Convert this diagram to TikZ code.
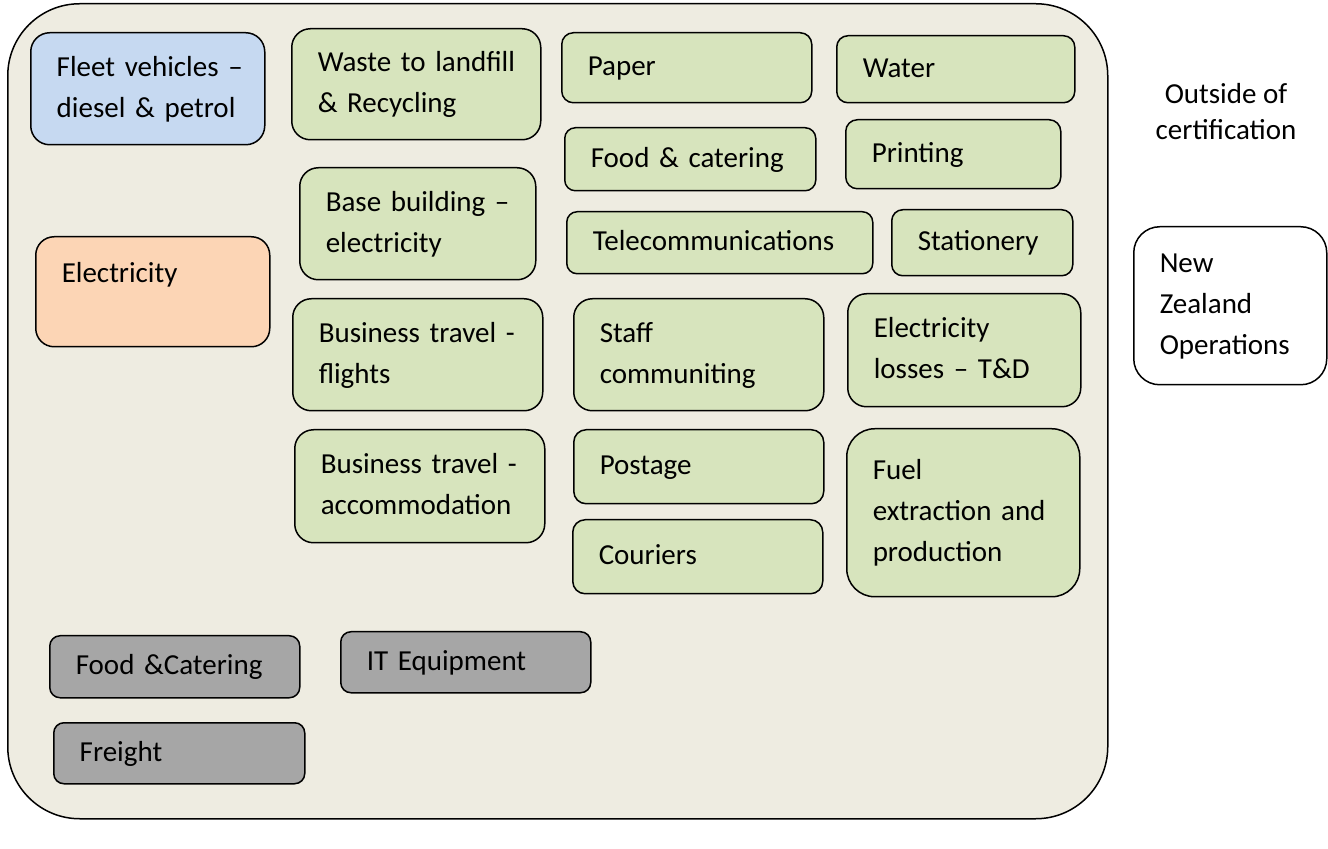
\documentclass[tikz,border=0pt]{standalone}
\usepackage{fontspec}
\setmainfont{Carlito}
\definecolor{beige}{HTML}{EEECE1}
\definecolor{leaf}{HTML}{D7E4BD}
\definecolor{sky}{HTML}{C6D9F1}
\definecolor{peach}{HTML}{FCD5B5}
\definecolor{ash}{HTML}{A6A6A6}
\newcommand\itemfont{\fontsize{14.5}{20.5}\selectfont}
\begin{document}
\begin{tikzpicture}
    [
    x=0.5pt, y=-0.5pt,
    boundary/.style={draw,line width=0.75pt,anchor=north west,rounded corners=36pt,fill=beige,inner sep=0pt},
    item/.style n args={3}{draw,line width=0.75pt,anchor=north west,rounded corners=#3pt,
      minimum width=#1*0.5pt,minimum height=#2*0.5pt,text width=#1*0.5pt-2pt,
      inner xsep=1pt,inner ysep=0pt,align=left,font=\itemfont,
      execute at begin node={\leftskip=12pt\strut},execute at end node={\strut}},
    direct/.style={fill=sky},
    energy/.style={fill=peach},
    indirect/.style={fill=leaf},
    excluded/.style={fill=ash},
    outside/.style={fill=white}
    ]
    \useasboundingbox (0,0) rectangle (1328,849);
    \node (inside) at (7,3) [boundary,minimum width=550pt,minimum height=407.5pt] {};

    \node (fleet) at (30,32) [item={234}{112}{9.5},direct] {Fleet vehicles --\\diesel \& petrol};
    \node (electricity) at (35,236) [item={234}{110}{9.2},energy,text depth=23.6pt] {Electricity};

    \node (waste) at (291,28) [item={249}{111}{9.3},indirect] {Waste to landfill\\\& Recycling};
    \node (base) at (299,167) [item={236}{112}{9.3},indirect] {Base building --\\electricity};
    \node (flights) at (292,298) [item={250}{112}{9.3},indirect] {Business travel -\\flights};
    \node (accommodation) at (294,429) [item={250}{113}{9.4},indirect] {Business travel -\\accommodation};

    \node (paper) at (561,32) [item={250}{70}{5.8},indirect] {Paper};
    \node (catering) at (564,127) [item={251}{63}{5.3},indirect] {Food \& catering};
    \node (telecom) at (566,211) [item={306}{62}{5.2},indirect] {Telecommunications};
    \node (staff) at (573,298) [item={250}{112}{9.3},indirect] {Staff\\communiting};
    \node (postage) at (573,429) [item={250}{74}{6.2},indirect] {Postage};
    \node (couriers) at (572,519) [item={250}{74}{6.2},indirect] {Couriers};

    \node (water) at (836,35) [item={238}{67}{5.6},indirect] {Water};
    \node (printing) at (845,119) [item={215}{69}{5.8},indirect] {Printing};
    \node (stationery) at (891,209) [item={181}{66}{5.5},indirect] {Stationery};
    \node (losses) at (847,293) [item={233}{113}{9.4},indirect] {Electricity\\losses -- T\&D};
    \node (fuel) at (846,428) [item={233}{168}{14},indirect] {Fuel\\extraction and\\production};

    \node (food) at (49,635) [item={250}{62}{5.2},excluded] {Food \&Catering};
    \node (it) at (340,631) [item={250}{61}{5.1},excluded] {IT Equipment};
    \node (freight) at (53,722) [item={251}{61}{5.1},excluded] {Freight};

    \node (label) at (1226,140) [anchor=base,align=center,inner sep=0pt,font=\fontsize{14.5}{18}\selectfont] {Outside of\\certification};
    \node (nz) at (1133,226) [item={193}{158}{13},outside] {New\\Zealand\\Operations};
\end{tikzpicture}
\end{document}
